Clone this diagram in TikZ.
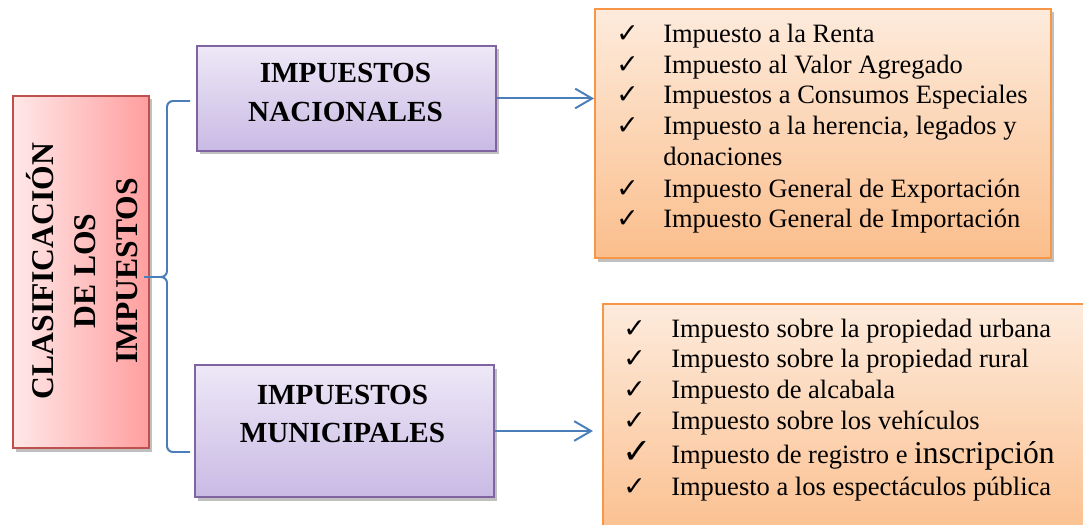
\documentclass[tikz,border=0pt]{standalone}
\usepackage{fontspec}
\setmainfont{Liberation Serif}
\newfontfamily\symfont{DejaVu Sans}
\usetikzlibrary{arrows.meta,shadows}

\definecolor{redline}{RGB}{192,80,77}
\definecolor{redlight}{RGB}{255,232,232}
\definecolor{reddark}{RGB}{255,158,158}
\definecolor{purpleline}{RGB}{128,100,162}
\definecolor{purplelight}{RGB}{238,232,247}
\definecolor{purpledark}{RGB}{201,186,228}
\definecolor{orangeline}{RGB}{247,150,70}
\definecolor{orangelight}{RGB}{253,235,220}
\definecolor{orangedark}{RGB}{251,190,140}
\definecolor{bluelink}{RGB}{74,126,187}

\newcommand{\pxu}{0.025cm}

\tikzset{
	box/.style={draw, line width=1.4pt, inner sep=0pt, anchor=north west,
		drop shadow={shadow xshift=2pt, shadow yshift=-2.5pt, fill=black!45, opacity=.55}},
	redbox/.style={box, draw=redline, left color=redlight, right color=reddark},
	purplebox/.style={box, draw=purpleline, top color=purplelight, bottom color=purpledark},
	orangebox/.style={box, draw=orangeline, top color=orangelight, bottom color=orangedark},
	sidetitle/.style={font=\fontsize{22.5}{30}\selectfont\bfseries, align=center, inner sep=0pt},
	heading/.style={font=\fontsize{20.75}{27.7}\selectfont\bfseries, align=center, inner sep=0pt},
	item/.style={font=\fontsize{18.85}{21.8}\selectfont, anchor=base west, inner sep=0pt},
	check/.style={font=\symfont\fontsize{19}{21}\selectfont, anchor=base west, inner sep=0pt},
	link/.style={bluelink, line width=1.4pt},
	linkarrow/.style={link, -{Straight Barb[length=12pt, width=14pt]}}
}

\begin{document}
\begin{tikzpicture}[x=0.025cm, y=-0.025cm]
	\useasboundingbox (0,0) rectangle (1083,525);
	\clip (0,0) rectangle (1083,525);

	% left block
	\node[redbox, minimum width=136*\pxu, minimum height=352*\pxu] (clas) at (12,95) {};
	\node[sidetitle, rotate=90] (clasTitle) at (82,271) {CLASIFICACIÓN\\DE LOS\\IMPUESTOS};

	% middle blocks
	\node[purplebox, minimum width=299*\pxu, minimum height=105*\pxu] (nac) at (196,45) {};
	\node[heading] (nacTitle) at (345.5,92.5) {IMPUESTOS\\NACIONALES};
	\node[purplebox, minimum width=299*\pxu, minimum height=132*\pxu] (mun) at (194,364) {};
	\node[heading] (munTitle) at (342.5,414) {IMPUESTOS\\MUNICIPALES};

	% brace
	\coordinate (braceTop) at (190,101);
	\coordinate (braceTip) at (144,277);
	\coordinate (braceBot) at (190,452);
	\draw[link] (braceTop) -- (173,101) to[out=180,in=90] (167,107) -- (167,271)
		to[out=-90,in=0] (161,277) -- (braceTip) -- (161,277)
		to[out=0,in=90] (167,283) -- (167,446) to[out=-90,in=180] (173,452) -- (braceBot);

	% right blocks
	\node[orangebox, minimum width=456*\pxu, minimum height=249*\pxu] (nacBox) at (594,8) {};
	\node[orangebox, minimum width=500*\pxu, minimum height=240*\pxu] (munBox) at (602,303) {};

	\foreach \i/\yy/\txt in {1/43/Impuesto a la Renta, 2/74/Impuesto al Valor Agregado,
		3/104/Impuestos a Consumos Especiales, 4/135/{Impuesto a la herencia, legados y},
		5/166/donaciones, 6/197/Impuesto General de Exportación, 7/227/Impuesto General de Importación}
		\node[item] (nacItem\i) at (663,\yy) {\txt};
	\foreach \i/\yy in {1/43,2/74,3/104,4/135,6/197,7/227}
		\node[check] (nacCheck\i) at (616,\yy) {✓};

	\foreach \i/\yy/\txt in {1/337/Impuesto sobre la propiedad urbana, 2/367/Impuesto sobre la propiedad rural,
		3/398/Impuesto de alcabala, 4/429/Impuesto sobre los vehículos,
		5/463/{Impuesto de registro e {\fontsize{22.5}{24}\selectfont inscripción}},
		6/495/Impuesto a los espectáculos pública}
		\node[item] (munItem\i) at (671,\yy) {\txt};
	\foreach \i/\yy in {1/337,2/367,3/398,4/429,6/495}
		\node[check] (munCheck\i) at (623,\yy) {✓};
	\node[check, font=\symfont\fontsize{25}{27}\selectfont] (munCheck5) at (622,463) {✓};

	% arrows
	\draw[linkarrow] (nac.east) -- (nac.east -| nacBox.west);
	\draw[linkarrow] (mun.east) -- ([xshift=-9*\pxu]mun.east -| munBox.west);
\end{tikzpicture}
\end{document}
